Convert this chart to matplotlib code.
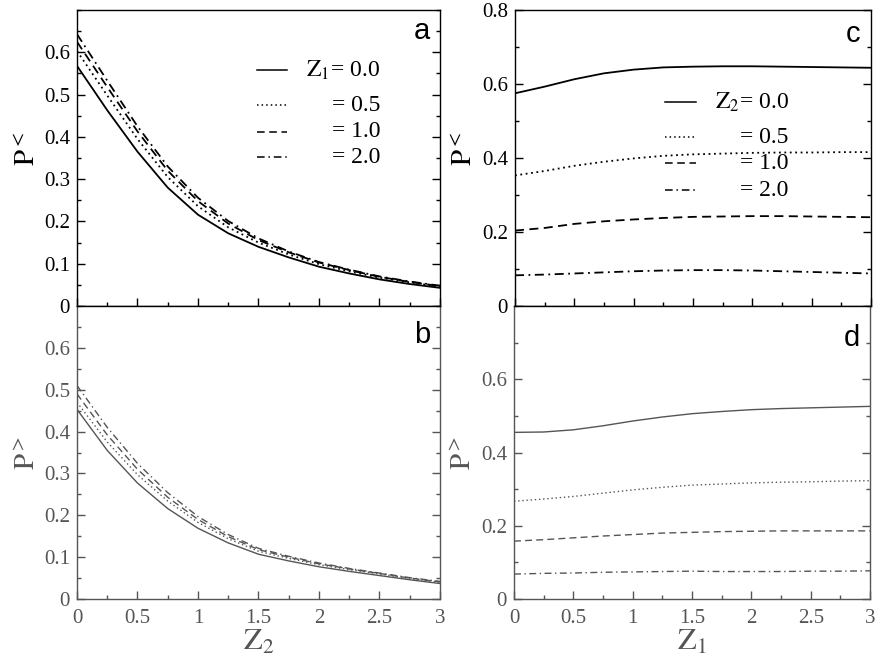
import matplotlib
matplotlib.use("Agg")
import matplotlib.pyplot as plt
import numpy as np
from matplotlib.ticker import MultipleLocator, FuncFormatter

plt.rcParams['font.family'] = ['Liberation Serif', 'DejaVu Serif']
plt.rcParams['mathtext.fontset'] = 'stix'

# ---- data ----
z = [0.0, 0.25, 0.5, 0.75, 1.0, 1.25, 1.5, 1.75, 2.0, 2.25, 2.5, 2.75, 3.0]
legend_vals = ['0.0', '0.5', '1.0', '2.0']

# panel a: P< vs Z2, for Z1 = 0, 0.5, 1, 2
a_z1_00 = [0.568, 0.463, 0.365, 0.280, 0.216, 0.172, 0.140, 0.115, 0.093, 0.077, 0.063, 0.052, 0.043]
a_z1_05 = [0.603, 0.498, 0.395, 0.305, 0.236, 0.186, 0.150, 0.122, 0.099, 0.082, 0.067, 0.056, 0.046]
a_z1_10 = [0.625, 0.518, 0.413, 0.320, 0.248, 0.195, 0.156, 0.127, 0.103, 0.085, 0.069, 0.057, 0.047]
a_z1_20 = [0.643, 0.533, 0.425, 0.330, 0.256, 0.201, 0.160, 0.129, 0.104, 0.086, 0.070, 0.058, 0.048]

# panel b: P> vs Z2
b_z1_00 = [0.453, 0.355, 0.277, 0.216, 0.169, 0.134, 0.107, 0.091, 0.077, 0.066, 0.056, 0.046, 0.037]
b_z1_05 = [0.470, 0.375, 0.297, 0.234, 0.183, 0.144, 0.114, 0.097, 0.082, 0.070, 0.060, 0.049, 0.040]
b_z1_10 = [0.490, 0.392, 0.310, 0.243, 0.190, 0.149, 0.118, 0.100, 0.084, 0.072, 0.061, 0.050, 0.041]
b_z1_20 = [0.510, 0.410, 0.324, 0.254, 0.197, 0.154, 0.121, 0.102, 0.086, 0.073, 0.062, 0.051, 0.042]

# panel c: P< vs Z1, for Z2 = 0, 0.5, 1, 2
c_z2_00 = [0.575, 0.593, 0.613, 0.629, 0.639, 0.645, 0.647, 0.648, 0.648, 0.647, 0.646, 0.645, 0.644]
c_z2_05 = [0.353, 0.365, 0.379, 0.390, 0.399, 0.406, 0.410, 0.412, 0.414, 0.415, 0.415, 0.416, 0.416]
c_z2_10 = [0.204, 0.211, 0.222, 0.229, 0.234, 0.238, 0.241, 0.242, 0.243, 0.243, 0.242, 0.241, 0.240]
c_z2_20 = [0.083, 0.085, 0.088, 0.091, 0.094, 0.096, 0.097, 0.097, 0.096, 0.094, 0.092, 0.090, 0.088]

# panel d: P> vs Z1
d_z2_00 = [0.455, 0.456, 0.462, 0.473, 0.486, 0.497, 0.506, 0.512, 0.517, 0.520, 0.522, 0.524, 0.526]
d_z2_05 = [0.267, 0.273, 0.280, 0.289, 0.298, 0.305, 0.311, 0.314, 0.317, 0.319, 0.320, 0.322, 0.323]
d_z2_10 = [0.158, 0.162, 0.167, 0.172, 0.176, 0.180, 0.182, 0.184, 0.185, 0.186, 0.186, 0.186, 0.186]
d_z2_20 = [0.068, 0.070, 0.071, 0.073, 0.074, 0.075, 0.076, 0.075, 0.075, 0.075, 0.076, 0.076, 0.077]

styles = ['-', (0, (1, 2)), (0, (5, 3)), (0, (5, 2.5, 1, 2.5))]
fmt = FuncFormatter(lambda v, p: '%g' % round(v, 3))


def setup(ax, ymax, ystep, yminor, color, xlabels, ylabels):
    for s in ax.spines.values():
        s.set_color(color)
        s.set_linewidth(1.0)
    ax.spines['top'].set_color('black')
    ax.set_xlim(0, 3)
    ax.set_ylim(0, ymax)
    ax.set_xticks(np.arange(0, 3.01, 0.5))
    ax.xaxis.set_minor_locator(MultipleLocator(0.25))
    ax.set_yticks(np.arange(0, ylabels + 0.001, ystep))
    ax.yaxis.set_minor_locator(MultipleLocator(yminor))
    ax.tick_params(which='both', direction='in', top=False, right=True,
                   colors=color, labelsize=15, width=1.0)
    ax.tick_params(which='major', length=6)
    ax.tick_params(axis='x', which='major', pad=7)
    ax.tick_params(axis='y', which='major', pad=5)
    ax.tick_params(which='minor', length=3)
    ax.xaxis.set_major_formatter(fmt)
    ax.yaxis.set_major_formatter(fmt)
    if not xlabels:
        ax.tick_params(labelbottom=False)


def draw_legend(ax, zname, x0, x1, xt, ys):
    for i, (ls, val) in enumerate(zip(styles, legend_vals)):
        ax.plot([x0, x1], [ys[i], ys[i]], color='black', lw=1.1, ls=ls,
                transform=ax.transAxes)
        label = '$\\mathrm{%s}$= %s' % (zname, val) if i == 0 else '= ' + val
        ax.text(xt, ys[i], label, transform=ax.transAxes, ha='right',
                va='center', fontsize=17)


fig = plt.figure(figsize=(8.77, 6.66), dpi=100)
ax_a = fig.add_axes([0.0878, 0.5405, 0.4139, 0.4444])
ax_b = fig.add_axes([0.0878, 0.1006, 0.4139, 0.4399])
ax_c = fig.add_axes([0.5872, 0.5405, 0.4060, 0.4444])
ax_d = fig.add_axes([0.5861, 0.1006, 0.4060, 0.4399])

gray = '#555555'

for y, ls in zip([a_z1_00, a_z1_05, a_z1_10, a_z1_20], styles):
    ax_a.plot(z, y, color='black', lw=1.3, ls=ls)
for y, ls in zip([b_z1_00, b_z1_05, b_z1_10, b_z1_20], styles):
    ax_b.plot(z, y, color=gray, lw=1.0, ls=ls)
for y, ls in zip([c_z2_00, c_z2_05, c_z2_10, c_z2_20], styles):
    ax_c.plot(z, y, color='black', lw=1.3, ls=ls)
for y, ls in zip([d_z2_00, d_z2_05, d_z2_10, d_z2_20], styles):
    ax_d.plot(z, y, color=gray, lw=1.0, ls=ls)

setup(ax_a, 0.7, 0.1, 0.05, 'black', False, 0.6)
setup(ax_b, 0.7, 0.1, 0.05, gray, True, 0.6)
setup(ax_c, 0.8, 0.2, 0.1, 'black', False, 0.8)
setup(ax_d, 0.8, 0.2, 0.1, gray, True, 0.6)

ax_a.set_ylabel('$\\mathrm{P}^{<}$', fontsize=21)
ax_b.set_ylabel('$\\mathrm{P}^{>}$', fontsize=21, color=gray)
ax_c.set_ylabel('$\\mathrm{P}^{<}$', fontsize=21)
ax_d.set_ylabel('$\\mathrm{P}^{>}$', fontsize=21, color=gray)
ax_a.yaxis.set_label_coords(-0.10, 0.53)
ax_b.yaxis.set_label_coords(-0.10, 0.5)
ax_c.yaxis.set_label_coords(-0.103, 0.53)
ax_d.yaxis.set_label_coords(-0.103, 0.5)

ax_b.set_xlabel('$\\mathrm{Z}_2$', fontsize=22, color=gray, labelpad=0)
ax_d.set_xlabel('$\\mathrm{Z}_1$', fontsize=22, color=gray, labelpad=0)

for ax, letter, yy in [(ax_a, 'a', 0.93), (ax_b, 'b', 0.9), (ax_c, 'c', 0.92), (ax_d, 'd', 0.89)]:
    ax.text(0.95, yy, letter, transform=ax.transAxes, ha='center', va='center',
            fontsize=21, family='Liberation Sans')

draw_legend(ax_a, 'Z_1', 0.496, 0.579, 0.835, [0.797, 0.679, 0.588, 0.503])
draw_legend(ax_c, 'Z_2', 0.422, 0.508, 0.769, [0.689, 0.571, 0.483, 0.392])

fig.savefig('out.png', dpi=100)
